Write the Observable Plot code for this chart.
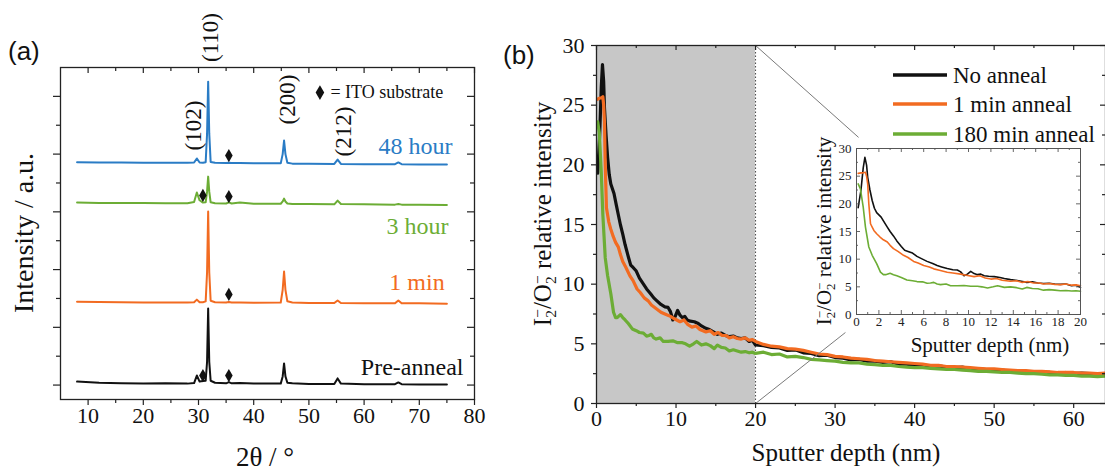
<!DOCTYPE html>
<html>
<head>
<meta charset="utf-8">
<script src="https://cdn.jsdelivr.net/npm/d3@7"></script>
<script src="https://cdn.jsdelivr.net/npm/@observablehq/plot@0.6"></script>
<style>
  html, body { margin: 0; padding: 0; background: #fff; }
  #fig { position: relative; width: 1105px; height: 471px; overflow: hidden; background: #fff; }
  #fig > svg { position: absolute; }
</style>
</head>
<body>
<div id="fig"></div>
<script>
// ---------------- Panel (a): XRD ----------------
const xrdTheta = [8, 12, 16, 20, 24, 28, 29.2, 29.7, 30.2, 30.8, 31.3, 31.55, 31.75, 31.95, 32.2, 33.0, 35.0, 35.5, 36.0, 37.5, 40, 44.9, 45.25, 45.5, 45.75, 46.1, 47, 50, 54.6, 55.2, 55.8, 60, 65.6, 66.2, 66.8, 70, 75];
const xrdPreAnneal = [0.12, 0.08, 0.06, 0.05, 0.06, 0.05, 0.07, 0.33, 0.12, 0.14, 0.15, 0.8, 2.65, 0.8, 0.15, 0.08, 0.06, 0.1, 0.06, 0.07, 0.05, 0.05, 0.3, 0.75, 0.3, 0.08, 0.06, 0.04, 0.04, 0.23, 0.05, 0.03, 0.03, 0.09, 0.03, 0.02, 0.02];
const xrd1min = [2.89, 2.88, 2.87, 2.86, 2.86, 2.86, 2.87, 2.96, 2.87, 2.87, 2.9, 3.9, 6.01, 3.9, 2.92, 2.87, 2.86, 2.88, 2.86, 2.86, 2.85, 2.86, 3.3, 3.93, 3.3, 2.9, 2.86, 2.84, 2.84, 2.93, 2.84, 2.83, 2.83, 2.93, 2.83, 2.83, 2.82];
const xrd3hour = [6.32, 6.31, 6.31, 6.31, 6.3, 6.3, 6.34, 6.67, 6.4, 6.32, 6.33, 6.7, 7.22, 6.7, 6.33, 6.3, 6.29, 6.33, 6.29, 6.32, 6.28, 6.28, 6.36, 6.46, 6.36, 6.29, 6.27, 6.27, 6.26, 6.39, 6.27, 6.26, 6.25, 6.27, 6.25, 6.25, 6.24];
const xrd48hour = [7.72, 7.71, 7.71, 7.7, 7.7, 7.7, 7.71, 7.85, 7.71, 7.7, 7.72, 8.7, 10.51, 8.7, 7.73, 7.7, 7.69, 7.7, 7.69, 7.69, 7.68, 7.68, 8.0, 8.47, 8.0, 7.7, 7.67, 7.67, 7.66, 7.81, 7.66, 7.65, 7.65, 7.71, 7.65, 7.64, 7.64];
const xrdNames = ["Pre-anneal", "1 min", "3 hour", "48 hour"];
const xrdColors = ["#111111", "#f26b21", "#6cad35", "#2a7cc5"];
const xrdLabelX = [78.0, 74.6, 75.3, 76.0];
const xrdLabelY = [0.61, 3.55, 5.49, 8.26];
const itoX = [30.8, 35.5, 35.5, 30.8, 35.5, 35.5];
const itoY = [0.33, 0.33, 3.14, 6.57, 6.53, 7.95];
const itoKeyX = [52.0], itoKeyY = [10.13];
const itoKeyText = ["= ITO substrate"];
const itoKeyTextX = [53.9];
const peakNames = ["(102)", "(110)", "(200)", "(212)"];
const peakLabelX = [29.1, 32.2, 46.1, 56.3];
const peakLabelY = [8.99, 12.04, 9.89, 8.78];
const aMajorX = [10, 20, 30, 40, 50, 60, 70, 80];
const aMinorX = [15, 25, 35, 45, 55, 65, 75];
const aMajorY = [0, 2, 4, 6, 8, 10];
const aMinorY = [1, 3, 5, 7, 9];

// ---------------- Panel (b): depth profile ----------------
const depthNoAnnealHead = [0.15, 0.4, 0.6, 0.75, 0.9, 1.0, 1.2, 1.4, 1.6, 1.8, 2.0, 2.2, 2.5, 2.75, 3.0, 3.3, 3.6, 4.0, 4.3, 4.6, 5.0, 5.4, 5.8, 6.3, 6.8, 7.2, 7.6, 8.1, 8.6, 9.0, 9.3, 9.6, 9.9, 10.2, 10.5, 10.8, 11.1, 11.4, 11.8, 12.3, 12.8, 13.2, 13.75, 14.2, 14.7, 15.2, 15.7, 16.2, 16.7, 17.2, 17.7, 18.2, 18.7, 19.2, 19.6, 20.0];
const noAnnealHead = [19.3, 22.5, 26.5, 28.4, 27.0, 24.8, 22.5, 20.6, 19.2, 18.4, 18.0, 17.6, 16.6, 15.8, 15.0, 14.2, 13.3, 12.3, 11.6, 11.4, 11.1, 10.5, 10.1, 9.6, 9.2, 8.85, 8.6, 8.3, 8.1, 8.05, 7.7, 7.0, 7.3, 7.8, 7.4, 7.2, 7.3, 7.0, 6.9, 6.85, 6.7, 6.5, 6.3, 6.2, 6.0, 5.8, 5.9, 5.7, 5.6, 5.65, 5.5, 5.45, 5.5, 5.2, 5.3, 4.9];
const depth1minHead = [0.15, 0.4, 0.6, 0.8, 0.9, 1.0, 1.1, 1.25, 1.4, 1.55, 1.8, 2.1, 2.4, 2.75, 3.0, 3.3, 3.7, 4.2, 4.6, 5.1, 5.5, 6.0, 6.5, 6.9, 7.4, 8.1, 8.6, 9.3, 9.8, 10.5, 11.0, 11.5, 12.0, 12.5, 13.0, 13.75, 14.3, 14.8, 15.3, 15.8, 16.3, 16.7, 17.2, 17.7, 18.2, 18.7, 19.2, 19.6, 20.0];
const anneal1minHead = [25.5, 25.6, 25.6, 25.7, 25.0, 23.6, 20.0, 16.4, 15.8, 15.2, 14.6, 14.0, 13.5, 13.1, 12.5, 11.9, 11.4, 10.7, 10.3, 9.6, 9.3, 8.85, 8.6, 8.25, 8.0, 7.65, 7.5, 7.3, 7.1, 6.85, 7.0, 6.6, 6.4, 6.5, 6.2, 6.0, 6.1, 5.8, 5.95, 5.7, 5.7, 5.5, 5.6, 5.45, 5.4, 5.5, 5.3, 5.35, 5.2];
const depth180minHead = [0.15, 0.35, 0.6, 0.8, 1.1, 1.4, 1.8, 2.14, 2.4, 2.6, 3.0, 3.3, 3.6, 4.0, 4.5, 5.0, 5.4, 5.9, 6.3, 6.6, 6.9, 7.2, 7.5, 8.0, 8.4, 9.0, 9.6, 10.2, 10.8, 11.2, 11.7, 12.2, 12.6, 13.2, 13.75, 14.3, 14.8, 15.2, 15.7, 16.2, 16.7, 17.2, 17.7, 18.2, 18.7, 19.2, 19.6, 20.0];
const anneal180minHead = [23.6, 22.7, 19.4, 15.8, 12.2, 10.7, 9.2, 7.65, 7.2, 7.2, 7.45, 7.2, 7.0, 6.7, 6.25, 6.1, 5.95, 5.9, 5.65, 5.7, 5.8, 5.5, 5.4, 5.5, 5.2, 5.2, 5.25, 5.1, 5.1, 5.0, 4.8, 5.0, 5.2, 4.9, 5.0, 4.85, 4.6, 4.9, 4.7, 4.65, 4.4, 4.5, 4.4, 4.3, 4.35, 4.25, 4.3, 4.2];
const depthTail = [21, 22, 23, 24, 25, 26, 27, 28, 29, 30, 31, 32, 33, 34, 35, 36, 37, 38, 39, 40, 41, 42, 43, 44, 45, 46, 47, 48, 49, 50, 51, 52, 53, 54, 55, 56, 57, 58, 59, 60, 61, 62, 63, 64];
const noAnnealTail = [4.85, 4.7, 4.65, 4.45, 4.5, 4.25, 4.2, 4.0, 4.05, 3.85, 3.8, 3.65, 3.7, 3.55, 3.55, 3.45, 3.5, 3.3, 3.3, 3.2, 3.25, 3.1, 3.15, 3.05, 3.0, 3.05, 2.9, 2.9, 2.85, 2.8, 2.8, 2.7, 2.7, 2.65, 2.65, 2.6, 2.6, 2.55, 2.6, 2.5, 2.55, 2.5, 2.45, 2.5];
const anneal1minTail = [4.95, 4.8, 4.75, 4.6, 4.55, 4.45, 4.3, 4.15, 4.1, 3.95, 3.9, 3.8, 3.75, 3.7, 3.6, 3.55, 3.5, 3.45, 3.4, 3.35, 3.3, 3.2, 3.2, 3.1, 3.1, 3.05, 3.0, 2.95, 2.9, 2.9, 2.85, 2.8, 2.75, 2.75, 2.7, 2.7, 2.65, 2.6, 2.6, 2.6, 2.55, 2.55, 2.5, 2.55];
const anneal180minTail = [4.3, 4.1, 4.15, 3.9, 3.95, 3.85, 3.7, 3.65, 3.6, 3.55, 3.45, 3.4, 3.4, 3.3, 3.25, 3.2, 3.2, 3.1, 3.05, 3.0, 3.0, 2.95, 2.9, 2.85, 2.85, 2.8, 2.75, 2.7, 2.7, 2.65, 2.6, 2.6, 2.55, 2.5, 2.5, 2.45, 2.4, 2.4, 2.35, 2.35, 2.3, 2.3, 2.25, 2.3];
const depthNames = ["No anneal", "1 min anneal", "180 min anneal"];
const depthColors = ["#111111", "#f26b21", "#6cad35"];
const zoomRange = [0, 20];
const zoomLinkX1 = [20, 20], zoomLinkY1 = [30, 0];
const zoomLinkX2 = [32.95, 31.3], zoomLinkY2 = [22.3, 5.95];
const bMajorX = [0, 10, 20, 30, 40, 50, 60];
const bMinorX = [5, 15, 25, 35, 45, 55];
const bMajorY = [0, 5, 10, 15, 20, 25, 30];
const bMinorY = [2.5, 7.5, 12.5, 17.5, 22.5, 27.5];
const insetMajorX = [0, 2, 4, 6, 8, 10, 12, 14, 16, 18, 20];
const insetMinorX = [1, 3, 5, 7, 9, 11, 13, 15, 17, 19];
const insetMajorY = [0, 5, 10, 15, 20, 25, 30];
const insetMinorY = [2.5, 7.5, 12.5, 17.5, 22.5, 27.5];

// ---------------- build tables ----------------
const FONT = "'Liberation Serif', 'Times New Roman', serif";
const STYLE = "font-family: 'Liberation Serif', 'Times New Roman', serif; background: transparent; overflow: visible; color: #111;";
const xrdRows = [xrdPreAnneal, xrd1min, xrd3hour, xrd48hour].flatMap((ys, s) =>
  xrdTheta.map((x, i) => ({x, y: ys[i], s: xrdNames[s]})));
const xrdLabels = xrdNames.map((t, i) => ({t, x: xrdLabelX[i], y: xrdLabelY[i], c: xrdColors[i]}));
const itoPts = itoX.map((x, i) => ({x, y: itoY[i]}));
const peaks = peakNames.map((t, i) => ({t, x: peakLabelX[i], y: peakLabelY[i]}));

const depthRows = [
  [depthNoAnnealHead.concat(depthTail), noAnnealHead.concat(noAnnealTail)],
  [depth1minHead.concat(depthTail), anneal1minHead.concat(anneal1minTail)],
  [depth180minHead.concat(depthTail), anneal180minHead.concat(anneal180minTail)]
].map(([xs, ys], s) => xs.map((x, i) => ({x, y: ys[i], s: depthNames[s]})));
const zoomLinks = zoomLinkX1.map((x1, i) => ({x1, y1: zoomLinkY1[i], x2: zoomLinkX2[i], y2: zoomLinkY2[i]}));

const fig = document.getElementById("fig");

// ---------- Panel (a) ----------
{
  const W = 500, H = 471, mL = 60, mR = 26, mT = 67, mB = 72;
  const pw = W - mL - mR, ph = H - mT - mB;
  const svg = Plot.plot({
    width: W, height: H, marginLeft: mL, marginRight: mR, marginTop: mT, marginBottom: mB,
    x: {domain: [5, 80], axis: null},
    y: {domain: [-0.5, 11], axis: null},
    style: STYLE,
    marks: [
      ...xrdNames.map((n, k) => Plot.line(xrdRows.filter(d => d.s === n), {x: "x", y: "y", stroke: xrdColors[k], strokeWidth: 2, strokeLinejoin: "round"})),
      Plot.dot(itoPts, {x: "x", y: "y", symbol: "diamond", r: 4, fill: "#111", stroke: "none"}),
      Plot.dot(itoKeyX.map((x, i) => ({x, y: itoKeyY[i]})), {x: "x", y: "y", symbol: "diamond", r: 4.5, fill: "#111", stroke: "none"}),
      Plot.text(itoKeyText.map((t, i) => ({t, x: itoKeyTextX[i], y: itoKeyY[i]})), {x: "x", y: "y", text: "t", textAnchor: "start", fontSize: 18, fontFamily: FONT, fill: "#111"}),
      Plot.text(peaks, {x: "x", y: "y", text: "t", rotate: -90, fontSize: 23, fontFamily: FONT, fill: "#111"}),
      Plot.text(xrdLabels, {x: "x", y: "y", text: "t", fill: "c", textAnchor: "end", fontSize: 24, fontFamily: FONT}),
      Plot.frame({stroke: "#222", strokeWidth: 1.3}),
      // bottom ticks (outward)
      Plot.tickX(aMajorX, {x: d => d, insetTop: ph, insetBottom: -6, stroke: "#222", strokeWidth: 1.2}),
      Plot.tickX(aMinorX, {x: d => d, insetTop: ph, insetBottom: -4, stroke: "#222", strokeWidth: 1.2}),
      // top ticks (inward)
      Plot.tickX(aMajorX, {x: d => d, insetBottom: ph - 6, stroke: "#222", strokeWidth: 1.2}),
      Plot.tickX(aMinorX, {x: d => d, insetBottom: ph - 4, stroke: "#222", strokeWidth: 1.2}),
      // left ticks (outward)
      Plot.tickY(aMajorY, {y: d => d, insetRight: pw, insetLeft: -7, stroke: "#222", strokeWidth: 1.2}),
      Plot.tickY(aMinorY, {y: d => d, insetRight: pw, insetLeft: -4, stroke: "#222", strokeWidth: 1.2}),
      // right ticks (inward)
      Plot.tickY(aMajorY, {y: d => d, insetLeft: pw - 7, stroke: "#222", strokeWidth: 1.2}),
      Plot.tickY(aMinorY, {y: d => d, insetLeft: pw - 4, stroke: "#222", strokeWidth: 1.2}),
      Plot.text(aMajorX, {x: d => d, text: d => String(d), frameAnchor: "bottom", dy: 23, fontSize: 22, fontFamily: FONT, fill: "#111"})
    ]
  });
  svg.style.left = "0px"; svg.style.top = "0px";
  fig.appendChild(svg);
}

// ---------- Panel (b) main ----------
{
  const W = 605, H = 471, mL = 96, mR = 0, mT = 45, mB = 68;
  const pw = W - mL - mR, ph = H - mT - mB;
  const svg = Plot.plot({
    width: W, height: H, marginLeft: mL, marginRight: mR, marginTop: mT, marginBottom: mB,
    x: {domain: [0, 64], axis: null},
    y: {domain: [0, 30], axis: null},
    style: STYLE,
    marks: [
      Plot.rect([{x1: zoomRange[0], x2: zoomRange[1], y1: 0, y2: 30}], {x1: "x1", x2: "x2", y1: "y1", y2: "y2", fill: "#c7c7c7"}),
      Plot.ruleX([zoomRange[1]], {x: d => d, stroke: "#444", strokeWidth: 1, strokeDasharray: "1.5,2"}),
      ...depthRows.map((rows, k) => Plot.line(rows, {x: "x", y: "y", stroke: depthColors[k], strokeWidth: 3.2, strokeLinejoin: "round"})),
      Plot.link(zoomLinks, {x1: "x1", y1: "y1", x2: "x2", y2: "y2", stroke: "#7a7a7a", strokeWidth: 1}),
      Plot.frame({stroke: "#222", strokeWidth: 1.3}),
      Plot.tickX(bMajorX, {x: d => d, insetTop: ph, insetBottom: -5, stroke: "#222", strokeWidth: 1.2}),
      Plot.tickX(bMinorX, {x: d => d, insetTop: ph, insetBottom: -3, stroke: "#222", strokeWidth: 1.2}),
      Plot.tickX(bMajorX, {x: d => d, insetBottom: ph - 5, stroke: "#222", strokeWidth: 1.2}),
      Plot.tickX(bMinorX, {x: d => d, insetBottom: ph - 3, stroke: "#222", strokeWidth: 1.2}),
      Plot.tickY(bMajorY, {y: d => d, insetRight: pw, insetLeft: -5, stroke: "#222", strokeWidth: 1.2}),
      Plot.tickY(bMinorY, {y: d => d, insetRight: pw, insetLeft: -3, stroke: "#222", strokeWidth: 1.2}),
      Plot.tickY(bMajorY, {y: d => d, insetLeft: pw - 5, stroke: "#222", strokeWidth: 1.2}),
      Plot.tickY(bMinorY, {y: d => d, insetLeft: pw - 3, stroke: "#222", strokeWidth: 1.2}),
      Plot.text(bMajorX, {x: d => d, text: d => String(d), frameAnchor: "bottom", dy: 22, fontSize: 22, fontFamily: FONT, fill: "#111"}),
      Plot.text(bMajorY, {y: d => d, text: d => String(d), frameAnchor: "left", dx: -12, textAnchor: "end", fontSize: 22, fontFamily: FONT, fill: "#111"})
    ]
  });
  svg.style.left = "500px"; svg.style.top = "0px";
  fig.appendChild(svg);
}

// ---------- Panel (b) inset ----------
{
  const W = 300, H = 240, mL = 66, mR = 10, mT = 28, mB = 46;
  const pw = W - mL - mR, ph = H - mT - mB;
  const insetRows = depthRows.map(rows => rows.filter(d => d.x <= 20));
  const svg = Plot.plot({
    width: W, height: H, marginLeft: mL, marginRight: mR, marginTop: mT, marginBottom: mB,
    x: {domain: [0, 20], axis: null},
    y: {domain: [0, 30], axis: null},
    style: STYLE,
    marks: [
      Plot.rect([{}], {x1: () => 0, x2: () => 20, y1: () => 0, y2: () => 30, fill: "#fff"}),
      ...insetRows.map((rows, k) => Plot.line(rows, {x: "x", y: "y", stroke: depthColors[k], strokeWidth: 1.6, strokeLinejoin: "round"})),
      Plot.frame({stroke: "#555", strokeWidth: 1}),
      Plot.tickX(insetMajorX, {x: d => d, insetTop: ph - 4, stroke: "#555", strokeWidth: 0.9}),
      Plot.tickX(insetMinorX, {x: d => d, insetTop: ph - 2, stroke: "#555", strokeWidth: 0.9}),
      Plot.tickX(insetMajorX, {x: d => d, insetBottom: ph - 4, stroke: "#555", strokeWidth: 0.9}),
      Plot.tickX(insetMinorX, {x: d => d, insetBottom: ph - 2, stroke: "#555", strokeWidth: 0.9}),
      Plot.tickY(insetMajorY, {y: d => d, insetRight: pw - 4, stroke: "#555", strokeWidth: 0.9}),
      Plot.tickY(insetMinorY, {y: d => d, insetRight: pw - 2, stroke: "#555", strokeWidth: 0.9}),
      Plot.tickY(insetMajorY, {y: d => d, insetLeft: pw - 4, stroke: "#555", strokeWidth: 0.9}),
      Plot.tickY(insetMinorY, {y: d => d, insetLeft: pw - 2, stroke: "#555", strokeWidth: 0.9}),
      Plot.text(insetMajorX, {x: d => d, text: d => String(d), frameAnchor: "bottom", dy: 11, fontSize: 13, fontFamily: FONT, fill: "#222"}),
      Plot.text(insetMajorY, {y: d => d, text: d => String(d), frameAnchor: "left", dx: -5, textAnchor: "end", fontSize: 13, fontFamily: FONT, fill: "#222"})
    ]
  });
  svg.style.left = "790px"; svg.style.top = "120px";
  fig.appendChild(svg);
}

// ---------- Titles, panel letters, legend ----------
{
  const NS = "http://www.w3.org/2000/svg";
  const ov = document.createElementNS(NS, "svg");
  ov.setAttribute("width", 1105); ov.setAttribute("height", 471);
  ov.style.left = "0px"; ov.style.top = "0px";
  ov.setAttribute("font-family", FONT);
  const sub = (fs) => `<tspan font-size="${fs * 0.62}" dy="${fs * 0.2}">2</tspan><tspan font-size="${fs * 0.62}" dx="${-fs * 0.31}" dy="${-fs * 0.52}">−</tspan><tspan dy="${fs * 0.32}">`;
  const ratioTitle = (fs) => `I${sub(fs)}/O</tspan>${sub(fs)} relative intensity</tspan>`;
  let html = "";
  html += `<text x="8" y="60" font-family="'Liberation Sans', Arial, sans-serif" font-size="26" fill="#111">(a)</text>`;
  html += `<text x="503" y="64" font-family="'Liberation Sans', Arial, sans-serif" font-size="26" fill="#111">(b)</text>`;
  html += `<text transform="translate(33,233) rotate(-90)" text-anchor="middle" font-size="28" fill="#111">Intensity / a.u.</text>`;
  html += `<text x="265" y="466" text-anchor="middle" font-size="27" fill="#111">2θ / °</text>`;
  html += `<text x="846" y="461" text-anchor="middle" font-size="25" fill="#111">Sputter depth (nm)</text>`;
  html += `<text transform="translate(551,214) rotate(-90)" text-anchor="middle" font-size="25" fill="#111">${ratioTitle(25)}</text>`;
  html += `<text x="990" y="352" text-anchor="middle" font-size="21" fill="#111">Sputter depth (nm)</text>`;
  html += `<text transform="translate(831,231) rotate(-90)" text-anchor="middle" font-size="21" fill="#111">${ratioTitle(21)}</text>`;
  const legendY = [75, 104, 134];
  depthNames.forEach((n, i) => {
    html += `<line x1="893" x2="947" y1="${legendY[i]}" y2="${legendY[i]}" stroke="${depthColors[i]}" stroke-width="3.5"/>`;
    html += `<text x="953" y="${legendY[i] + 8}" font-size="23" fill="#111">${n}</text>`;
  });
  ov.innerHTML = html;
  fig.appendChild(ov);
}
</script>
</body>
</html>
